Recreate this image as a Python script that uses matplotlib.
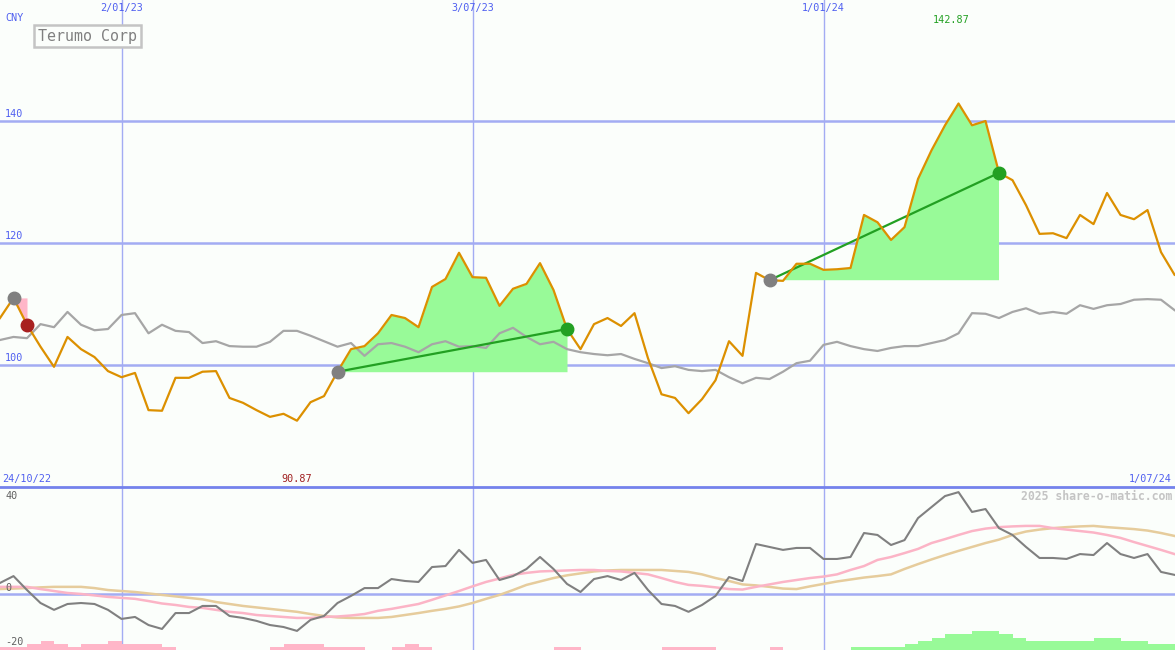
import numpy as np
import pandas as pd
import matplotlib
matplotlib.use("Agg")
from matplotlib import pyplot as plt
import matplotlib.transforms as mtrans

# weekly closes, Terumo Corp (CNY)
dates = pd.date_range("2022-10-31", periods=88, freq="7D")

close = [107.7, 111.0, 106.6, 103.0, 99.7, 104.6, 102.6, 101.3, 99.0, 98.0,
         98.7, 92.6, 92.5, 97.9, 97.9, 98.9, 99.0, 94.6, 93.8, 92.6,
         91.5, 92.0, 90.87, 93.9, 94.9, 98.9, 102.6, 103.1, 105.2, 108.2,
         107.7, 106.2, 112.8, 114.1, 118.4, 114.4, 114.3, 109.7, 112.5, 113.3,
         116.7, 112.3, 105.9, 102.6, 106.7, 107.7, 106.4, 108.5, 101.1, 95.2,
         94.6, 92.1, 94.4, 97.5, 103.9, 101.5, 115.1, 113.9, 113.8, 116.6,
         116.6, 115.6, 115.7, 115.9, 124.6, 123.4, 120.5, 122.6, 130.5, 135.2,
         139.3, 142.87, 139.3, 140.0, 131.5, 130.3, 126.2, 121.5, 121.6, 120.8,
         124.6, 123.1, 128.2, 124.6, 123.9, 125.4, 118.5, 114.8]

relative = [104.1, 104.6, 104.4, 106.7, 106.2, 108.7, 106.6, 105.7, 105.9, 108.2,
            108.5, 105.2, 106.6, 105.6, 105.4, 103.6, 103.9, 103.1, 103.0, 103.0,
            103.8, 105.6, 105.6, 104.8, 103.9, 103.0, 103.6, 101.5, 103.4, 103.6,
            103.0, 102.1, 103.4, 103.9, 103.0, 103.1, 102.8, 105.2, 106.1, 104.6,
            103.4, 103.8, 102.6, 102.1, 101.8, 101.6, 101.8, 101.0, 100.3, 99.5,
            99.8, 99.2, 99.0, 99.2, 98.0, 97.0, 97.9, 97.7, 98.9, 100.3,
            100.7, 103.3, 103.8, 103.1, 102.6, 102.3, 102.8, 103.1, 103.1, 103.6,
            104.1, 105.2, 108.5, 108.4, 107.7, 108.7, 109.3, 108.4, 108.7, 108.4,
            109.8, 109.2, 109.8, 110.0, 110.7, 110.8, 110.7, 109.0]

momentum = [4.5, 7.3, 1.6, -3.7, -6.5, -4.1, -3.7, -4.1, -6.5, -10.2,
            -9.4, -12.7, -14.3, -7.8, -7.8, -4.9, -4.9, -9.0, -9.8, -11.0,
            -12.7, -13.5, -15.1, -10.6, -9.0, -3.7, -0.8, 2.4, 2.4, 6.1,
            5.3, 4.9, 11.0, 11.4, 18.0, 12.7, 13.9, 5.7, 7.3, 10.2,
            15.1, 10.2, 4.1, 0.8, 6.1, 7.3, 5.7, 8.6, 1.6, -4.1,
            -4.9, -7.3, -4.5, -0.8, 6.9, 5.3, 20.4, 19.2, 18.0, 18.8,
            18.8, 14.3, 14.3, 15.1, 24.9, 24.1, 20.0, 22.0, 31.0, 35.5,
            40.0, 41.6, 33.5, 34.7, 26.9, 24.1, 19.2, 14.7, 14.7, 14.3,
            16.3, 15.9, 20.8, 16.3, 14.7, 16.3, 9.0, 7.8]

mom_fast = [2.9, 2.9, 2.9, 2.0, 1.2, 0.4, 0.0, -0.6, -1.2, -1.6,
            -2.0, -2.9, -3.9, -4.5, -5.3, -5.7, -6.5, -7.3, -7.8, -8.6,
            -9.0, -9.4, -9.8, -9.8, -9.4, -9.2, -8.8, -8.2, -6.9, -6.1,
            -5.1, -4.1, -2.4, -0.6, 1.2, 3.1, 4.9, 6.3, 7.8, 8.6,
            9.2, 9.4, 9.6, 9.8, 9.8, 9.4, 9.2, 8.6, 8.0, 6.5,
            4.9, 3.7, 3.3, 2.7, 2.0, 1.8, 2.9, 3.9, 4.9, 5.7,
            6.5, 7.1, 8.0, 9.8, 11.4, 13.9, 15.1, 16.7, 18.4, 20.8,
            22.4, 24.1, 25.7, 26.7, 27.3, 27.6, 27.8, 27.8, 26.9, 26.3,
            25.7, 25.1, 24.1, 22.9, 21.2, 19.6, 18.0, 16.3]

mom_slow = [2.0, 2.2, 2.4, 2.7, 2.9, 2.9, 2.9, 2.4, 1.6, 1.2,
            0.8, 0.2, -0.4, -1.0, -1.6, -2.2, -3.3, -4.1, -4.9, -5.5,
            -6.1, -6.7, -7.3, -8.2, -9.0, -9.6, -9.8, -9.8, -9.8, -9.4,
            -8.6, -7.8, -6.9, -6.1, -5.1, -3.7, -2.0, -0.4, 1.6, 3.7,
            5.1, 6.5, 7.6, 8.4, 9.2, 9.6, 9.8, 9.8, 9.8, 9.8,
            9.4, 9.0, 8.0, 6.5, 5.3, 3.9, 3.5, 2.9, 2.2, 2.0,
            3.1, 4.1, 5.1, 5.9, 6.7, 7.3, 8.0, 10.2, 12.2, 14.1,
            15.9, 17.6, 19.2, 20.8, 22.2, 24.1, 25.5, 26.3, 26.9, 27.3,
            27.6, 27.8, 27.3, 26.9, 26.5, 25.9, 24.9, 23.7]

hist = [-1.2, -1.2, -2.4, -3.7, -2.4, -1.2, -2.4, -2.4, -3.7, -2.4,
        -2.4, -2.4, -1.2, 0, 0, 0, 0, 0, 0, 0,
        -1.2, -2.4, -2.4, -2.4, -1.2, -1.2, -1.2, 0, 0, -1.2,
        -2.4, -1.2, 0, 0, 0, 0, 0, 0, 0, 0,
        0, -1.2, -1.2, 0, 0, 0, 0, 0, 0, -1.2,
        -1.2, -1.2, -1.2, 0, 0, 0, 0, -1.2, 0, 0,
        0, 0, 0, 1.2, 1.2, 1.2, 1.2, 2.4, 3.7, 4.9,
        6.5, 6.5, 7.8, 7.8, 6.5, 4.9, 3.7, 3.7, 3.7, 3.7,
        3.7, 4.9, 4.9, 3.7, 3.7, 2.4, 2.4, 2.4]

buy_trades = [(25, 42), (57, 74)]
sell_trades = [(1, 2)]
grid_dates = pd.to_datetime(["2023-01-02", "2023-07-03", "2024-01-01"])
grid_labels = ["2/01/23", "3/07/23", "1/01/24"]

close = np.array(close)
bg = "#fbfefb"
blue_grid = "#a3acf3"
blue_text = "#4f5ff0"
mono = "DejaVu Sans Mono"

fig = plt.figure(figsize=(11.75, 6.5), dpi=100, facecolor=bg)
ax = fig.add_axes([0, 163 / 650, 1, 487 / 650])
ax2 = fig.add_axes([0, 0, 1, 163 / 650], sharex=ax)

x0 = pd.Timestamp("2022-10-31")
x1 = pd.Timestamp("2024-07-01 06:00")

for a in (ax, ax2):
    a.set_facecolor(bg)
    for s in a.spines.values():
        s.set_visible(False)
    a.set_xticks([])
    a.set_yticks([])
    for d in grid_dates:
        a.axvline(d, color=blue_grid, lw=1, zorder=1)
ax.set_xlim(x0, x1)
ax.set_ylim(80, 159.84)
ax2.set_ylim(-22.9, 43.7)
ax2.spines["top"].set_visible(True)
ax2.spines["top"].set_color("#7482ec")
ax2.spines["top"].set_linewidth(2)

for v in (100, 120, 140):
    ax.axhline(v, color=blue_grid, lw=1.8, zorder=1)
ax2.axhline(0, color=blue_grid, lw=1.8, zorder=1)

# trade fills
for s, e in buy_trades:
    seg = close[s:e + 1]
    ax.fill_between(dates[s:e + 1], close[s], seg, where=seg >= close[s],
                    interpolate=True, color="#98fa98", lw=0, zorder=2)
for s, e in sell_trades:
    ax.fill_between(dates[s:e + 1], close[s:e + 1], close[s], color="#ffb6c8", lw=0, zorder=2)

ax.plot(dates, relative, color="#a6a6a6", lw=1.6, zorder=3)

for s, e in buy_trades:
    ax.plot([dates[s], dates[e]], [close[s], close[e]], color="#22a022", lw=1.6, zorder=4)

ax.plot(dates, close, color="#dc9000", lw=1.6, zorder=5)

for s, e in buy_trades:
    ax.plot(dates[s], close[s], "o", color="#808080", ms=9, zorder=6)
    ax.plot(dates[e], close[e], "o", color="#22a022", ms=9, zorder=6)
for s, e in sell_trades:
    ax.plot(dates[s], close[s], "o", color="#808080", ms=9, zorder=6)
    ax.plot(dates[e], close[e], "o", color="#a82020", ms=9, zorder=6)

# lower panel
hist = np.array(hist)
bar_cols = ["#98fa98" if h > 0 else "#ffb6c8" for h in hist]
ax2.bar(dates, np.abs(hist), width=7, align="edge", bottom=-22.9,
        color=bar_cols, lw=0, zorder=2)
ax2.plot(dates, mom_slow, color="#e6cc9c", lw=1.8, zorder=3)
ax2.plot(dates, mom_fast, color="#fbb4c6", lw=1.8, zorder=3)
ax2.plot(dates, momentum, color="#808080", lw=1.5, zorder=4)

# texts
xa = ax.get_xaxis_transform()
for d, lab in zip(grid_dates, grid_labels):
    ax.text(d, 1 - 8 / 487, lab, transform=xa, ha="center", va="center",
            color=blue_text, fontsize=7.3, family=mono)
ax.text(2 / 1175, 1 - 479 / 487 + 0.0, "24/10/22", transform=ax.transAxes,
        ha="left", va="center", color=blue_text, fontsize=7.3, family=mono)
ax.text(1172 / 1175, 8 / 487, "1/07/24", transform=ax.transAxes,
        ha="right", va="center", color=blue_text, fontsize=7.3, family=mono)
ax.text(5 / 1175, 1 - 18 / 487, "CNY", transform=ax.transAxes,
        ha="left", va="center", color=blue_text, fontsize=7.3, family=mono)

ya = ax.get_yaxis_transform()
for v in (100, 120, 140):
    ax.text(5 / 1175, v + 0.3, str(v), transform=ya, ha="left", va="bottom",
            color=blue_text, fontsize=7.3, family=mono)

imax = int(np.argmax(close))
imin = int(np.argmin(close))
ax.text(dates[imax] - pd.Timedelta(days=4), 1 - 20 / 487, f"{close[imax]:.2f}",
        transform=xa, ha="center", va="center", color="#22a022", fontsize=7.3, family=mono)
ax.text(dates[imin], 8 / 487, f"{close[imin]:.2f}", transform=xa,
        ha="center", va="center", color="#a02020", fontsize=7.3, family=mono)

ya2 = ax2.get_yaxis_transform()
ax2.text(5 / 1175, 40, "40", transform=ya2, ha="left", va="center",
         color="#606060", fontsize=7.3, family=mono)
ax2.text(5 / 1175, 0.3, "0", transform=ya2, ha="left", va="bottom",
         color="#606060", fontsize=7.3, family=mono)
ax2.text(5 / 1175, -19.6, "-20", transform=ya2, ha="left", va="center",
         color="#606060", fontsize=7.3, family=mono)
ax2.text(1172 / 1175, (650 - 496) / 163, "2025 share-o-matic.com",
         transform=ax2.transAxes, ha="right", va="center", color="#c4c4c4",
         fontsize=8.3, family=mono, fontweight="bold")

fig.text(38 / 1175, 1 - 36 / 650, "Terumo Corp", ha="left", va="center",
         color="#808080", fontsize=10.8, family=mono,
         bbox=dict(boxstyle="square,pad=0.25", fc=bg, ec="#c4c4c4", lw=1.8))

fig.savefig("out.png", dpi=100, facecolor=bg)
